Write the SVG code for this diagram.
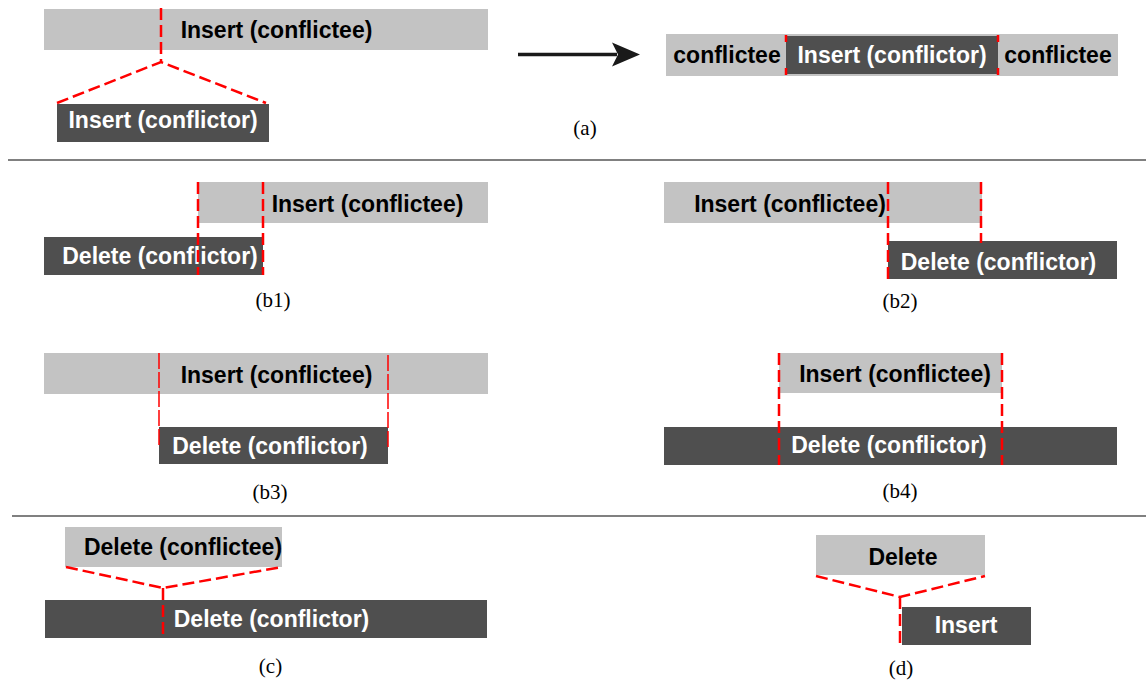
<svg xmlns="http://www.w3.org/2000/svg" width="1146" height="681" viewBox="0 0 1146 681">
<style>
.lt{fill:#c3c3c3}
.dk{fill:#4f4f4f}
.tb{font-family:"Liberation Sans",Arial,sans-serif;font-weight:bold;font-size:23px;text-anchor:middle}
.tk{fill:#000}
.tw{fill:#fff}
.cap{font-family:"Liberation Serif","Times New Roman",serif;font-size:21px;text-anchor:middle;fill:#000}
.rd{stroke:#ff0000;stroke-width:2.5;fill:none;stroke-dasharray:12 5}
.rt{stroke:#ff0000;stroke-width:1.5;fill:none;stroke-dasharray:16 3}
.sep{stroke:#808080;stroke-width:2}
</style>
<rect width="1146" height="681" fill="#fff"/>
<g id="separators">
<line class="sep" x1="8" y1="160" x2="1146" y2="160"/>
<line class="sep" x1="12" y1="516" x2="1146" y2="516"/>
</g>
<!-- (a) -->
<g id="a-conflictee"><rect class="lt" x="44" y="9" width="444" height="41"/><text class="tb tk" x="276.5" y="38">Insert (conflictee)</text></g>
<g id="a-conflictor"><rect class="dk" x="57" y="104" width="212" height="38"/><text class="tb tw" x="163" y="128">Insert (conflictor)</text></g>
<g id="a-result">
<rect class="lt" x="666" y="34" width="452" height="42"/>
<rect class="dk" x="786" y="36" width="212" height="38"/>
<text class="tb tk" x="727" y="63">conflictee</text>
<text class="tb tw" x="892" y="63">Insert (conflictor)</text>
<text class="tb tk" x="1058" y="63">conflictee</text>
</g>
<text class="cap" x="585" y="135">(a)</text>
<!-- (b1) -->
<g id="b1-conflictee"><rect class="lt" x="198" y="182" width="290" height="41"/><text class="tb tk" x="367.5" y="212">Insert (conflictee)</text></g>
<g id="b1-conflictor"><rect class="dk" x="44" y="237" width="219" height="38"/><text class="tb tw" x="160" y="264">Delete (conflictor)</text></g>
<text class="cap" x="273" y="307">(b1)</text>
<!-- (b2) -->
<g id="b2-conflictee"><rect class="lt" x="664" y="182" width="318" height="41"/><text class="tb tk" x="790" y="212">Insert (conflictee)</text></g>
<g id="b2-conflictor"><rect class="dk" x="888" y="241" width="229" height="38"/><text class="tb tw" x="998.5" y="270">Delete (conflictor)</text></g>
<text class="cap" x="900" y="308">(b2)</text>
<!-- (b3) -->
<g id="b3-conflictee"><rect class="lt" x="44" y="353" width="444" height="41"/><text class="tb tk" x="276.5" y="383">Insert (conflictee)</text></g>
<g id="b3-conflictor"><rect class="dk" x="159" y="427" width="229" height="37"/><text class="tb tw" x="270" y="454">Delete (conflictor)</text></g>
<text class="cap" x="270" y="499">(b3)</text>
<!-- (b4) -->
<g id="b4-conflictee"><rect class="lt" x="779" y="353" width="223" height="40"/><text class="tb tk" x="895" y="382">Insert (conflictee)</text></g>
<g id="b4-conflictor"><rect class="dk" x="664" y="427" width="453" height="38"/><text class="tb tw" x="889" y="453">Delete (conflictor)</text></g>
<text class="cap" x="900" y="498">(b4)</text>
<!-- (c) -->
<g id="c-conflictee"><rect class="lt" x="65" y="527" width="217" height="40"/><text class="tb tk" x="183" y="555">Delete (conflictee)</text></g>
<g id="c-conflictor"><rect class="dk" x="45" y="600" width="442" height="38"/><text class="tb tw" x="271.5" y="627">Delete (conflictor)</text></g>
<text class="cap" x="270.5" y="673">(c)</text>
<!-- (d) -->
<g id="d-delete"><rect class="lt" x="816" y="535" width="169" height="40"/><text class="tb tk" x="903" y="565">Delete</text></g>
<g id="d-insert"><rect class="dk" x="902" y="607" width="129" height="38"/><text class="tb tw" x="966" y="633">Insert</text></g>
<text class="cap" x="901" y="675">(d)</text>
<g id="connectors">
<line x1="518" y1="54.5" x2="617" y2="54.5" stroke="#1a1a1a" stroke-width="3.5"/>
<polygon points="640,54.5 612,42.5 618,54.5 612,66.5" fill="#1a1a1a"/>
<!-- a -->
<polyline class="rd" points="161,8 161,62"/>
<polyline class="rd" points="57,103 161,62 266,103"/>
<line x1="786" y1="35" x2="786" y2="75" stroke="#ff0000" stroke-width="2.5" stroke-dasharray="7 26 7"/>
<line x1="998" y1="35" x2="998" y2="75" stroke="#ff0000" stroke-width="2.5" stroke-dasharray="7 26 7"/>
<!-- b1 -->
<line class="rd" x1="198" y1="182" x2="198" y2="275"/>
<line class="rd" x1="263" y1="182" x2="263" y2="275"/>
<!-- b2 -->
<line class="rd" x1="888" y1="182" x2="888" y2="279"/>
<line class="rd" x1="981" y1="182" x2="981" y2="243"/>
<!-- b3 -->
<line class="rt" x1="159" y1="353" x2="159" y2="448"/>
<line class="rt" x1="388" y1="355" x2="388" y2="448"/>
<!-- b4 -->
<line class="rd" x1="779" y1="353" x2="779" y2="465"/>
<line class="rd" x1="1002" y1="353" x2="1002" y2="465"/>
<!-- c -->
<polyline class="rd" points="66,567 163,588 282,567"/>
<line class="rd" x1="163" y1="588" x2="163" y2="638"/>
<!-- d -->
<polyline class="rd" points="816,576 900,597 985,576"/>
<line class="rd" x1="900" y1="597" x2="900" y2="647"/>
</g>
</svg>
